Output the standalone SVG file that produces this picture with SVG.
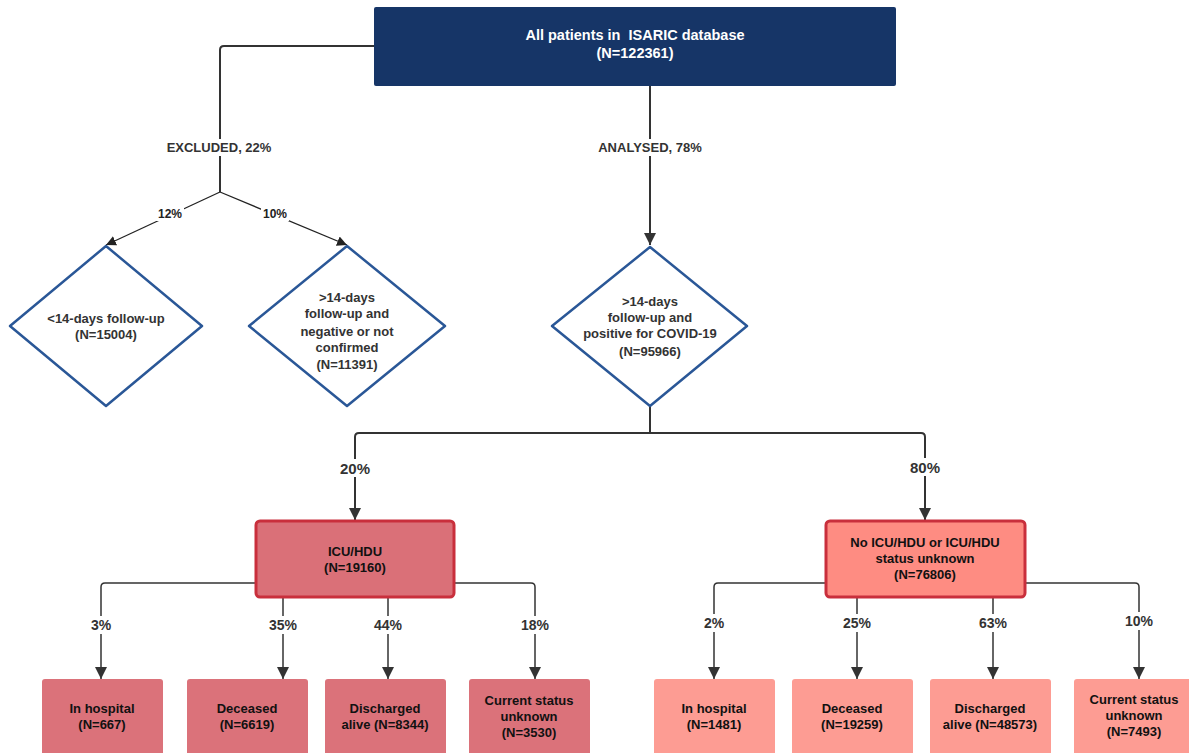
<svg xmlns="http://www.w3.org/2000/svg" width="1189" height="753" viewBox="0 0 1189 753">
<style>
text{font-family:"Liberation Sans",Arial,sans-serif;font-weight:bold;text-anchor:middle;dominant-baseline:central}
.ln{fill:none;stroke:#333;stroke-width:2}
.thin{fill:none;stroke:#222;stroke-width:1.3}
.sub{fill:none;stroke:#333;stroke-width:1.5}
.lbl{font-size:13px;fill:#333}
.pct{font-size:14px;fill:#333}
.dia{fill:#fff;stroke:#2a5797;stroke-width:2.5;stroke-linejoin:round}
.dt{font-size:13px;fill:#333}
.bt{font-size:13px;fill:#111}
.bg{fill:#fff}
</style>
<defs>
<marker id="ah" viewBox="0 0 10 10" refX="10" refY="5" markerWidth="10" markerHeight="10" markerUnits="userSpaceOnUse" orient="auto"><path d="M0,0L10,5L0,10z" fill="#222"/></marker>
<marker id="ah2" viewBox="0 0 10 10" refX="10" refY="5" markerWidth="14" markerHeight="12" markerUnits="userSpaceOnUse" orient="auto"><path d="M0,0L10,5L0,10z" fill="#333"/></marker>
</defs>
<g id="connectors">
<path class="ln" d="M374,46H224Q220,46 220,50V192"/>
<path class="thin" d="M220,192L106,245" marker-end="url(#ah)"/>
<path class="thin" d="M220,192L347,245" marker-end="url(#ah)"/>
<path class="ln" d="M650,86V245" marker-end="url(#ah2)"/>
<path class="ln" d="M650,406V433"/>
<path class="ln" d="M355,520V437Q355,433 359,433H921Q925,433 925,437V520" marker-end="url(#ah2)"/>
<path class="ln" d="M355,437V520" marker-end="url(#ah2)"/>
<path class="sub" d="M256,583H105Q101,583 101,587V679" marker-end="url(#ah2)"/>
<path class="sub" d="M283,597V679" marker-end="url(#ah2)"/>
<path class="sub" d="M388,597V679" marker-end="url(#ah2)"/>
<path class="sub" d="M454,583H531Q535,583 535,587V679" marker-end="url(#ah2)"/>
<path class="sub" d="M826,583H718Q714,583 714,587V679" marker-end="url(#ah2)"/>
<path class="sub" d="M857,597V679" marker-end="url(#ah2)"/>
<path class="sub" d="M993,597V679" marker-end="url(#ah2)"/>
<path class="sub" d="M1025,583H1135Q1139,583 1139,587V679" marker-end="url(#ah2)"/>
<rect class="bg" x="164" y="139" width="112" height="17"/>
<text class="lbl" x="219" y="147">EXCLUDED, 22%</text>
<rect class="bg" x="594" y="139" width="112" height="17"/>
<text class="lbl" x="650" y="147">ANALYSED, 78%</text>
<rect class="bg" x="156" y="207" width="28" height="14"/>
<text class="dt" x="170" y="214" style="font-size:12px;fill:#222">12%</text>
<rect class="bg" x="261" y="207" width="28" height="14"/>
<text class="dt" x="275" y="214" style="font-size:12px;fill:#222">10%</text>
<rect class="bg" x="337" y="459" width="36" height="18"/>
<text class="pct" x="355" y="468" style="font-size:15px">20%</text>
<rect class="bg" x="907" y="458" width="36" height="18"/>
<text class="pct" x="925" y="467" style="font-size:15px">80%</text>
<rect class="bg" x="88" y="616" width="26" height="18"/>
<text class="pct" x="101" y="625">3%</text>
<rect class="bg" x="268" y="616" width="30" height="18"/>
<text class="pct" x="283" y="625">35%</text>
<rect class="bg" x="373" y="616" width="30" height="18"/>
<text class="pct" x="388" y="625">44%</text>
<rect class="bg" x="520" y="616" width="30" height="18"/>
<text class="pct" x="535" y="625">18%</text>
<rect class="bg" x="701" y="614" width="26" height="18"/>
<text class="pct" x="714" y="623">2%</text>
<rect class="bg" x="842" y="614" width="30" height="18"/>
<text class="pct" x="857" y="623">25%</text>
<rect class="bg" x="978" y="614" width="30" height="18"/>
<text class="pct" x="993" y="623">63%</text>
<rect class="bg" x="1124" y="612" width="30" height="18"/>
<text class="pct" x="1139" y="621">10%</text>
</g>
<g id="top">
<rect x="374" y="7" width="522" height="79" rx="2" fill="#163567"/>
<text x="635" y="35" style="font-size:14.5px;fill:#fff">All patients in&#160; ISARIC database</text>
<text x="635" y="53" style="font-size:14.5px;fill:#fff">(N=122361)</text>
</g>
<g id="d1">
<path class="dia" d="M106,246L202,326L106,406L10,326z"/>
<text class="dt" x="106" y="318">&lt;14-days follow-up</text>
<text class="dt" x="106" y="334">(N=15004)</text>
</g>
<g id="d2">
<path class="dia" d="M347,246L445,326L347,406L249,326z"/>
<text class="dt" x="347" y="297">&gt;14-days</text>
<text class="dt" x="347" y="313">follow-up and</text>
<text class="dt" x="347" y="331">negative or not</text>
<text class="dt" x="347" y="347">confirmed</text>
<text class="dt" x="347" y="364">(N=11391)</text>
</g>
<g id="d3">
<path class="dia" d="M650,247L747,326L650,406L552,326z"/>
<text class="dt" x="650" y="301">&gt;14-days</text>
<text class="dt" x="650" y="317">follow-up and</text>
<text class="dt" x="650" y="333">positive for COVID-19</text>
<text class="dt" x="650" y="351">(N=95966)</text>
</g>
<g id="icu">
<rect x="256" y="521" width="198" height="76" rx="4" fill="#da7078" stroke="#c92f3c" stroke-width="3"/>
<text class="bt" x="355" y="551">ICU/HDU</text>
<text class="bt" x="355" y="567">(N=19160)</text>
</g>
<g id="noicu">
<rect x="826" y="521" width="199" height="76" rx="4" fill="#fe8c82" stroke="#c92f3c" stroke-width="3"/>
<text class="bt" x="925" y="542">No ICU/HDU or ICU/HDU</text>
<text class="bt" x="925" y="558">status unknown</text>
<text class="bt" x="925" y="574">(N=76806)</text>
</g>
<g id="l1"><rect x="42" y="679" width="121" height="80" rx="3" fill="#db727a"/><text class="bt" x="102" y="708">In hospital</text><text class="bt" x="102" y="724">(N=667)</text></g>
<g id="l2"><rect x="187" y="679" width="121" height="80" rx="3" fill="#db727a"/><text class="bt" x="247" y="708">Deceased</text><text class="bt" x="247" y="724">(N=6619)</text></g>
<g id="l3"><rect x="325" y="679" width="121" height="80" rx="3" fill="#db727a"/><text class="bt" x="385" y="708">Discharged</text><text class="bt" x="385" y="724">alive (N=8344)</text></g>
<g id="l4"><rect x="469" y="679" width="121" height="80" rx="3" fill="#db727a"/><text class="bt" x="529" y="700">Current status</text><text class="bt" x="529" y="716">unknown</text><text class="bt" x="529" y="732">(N=3530)</text></g>
<g id="r1"><rect x="654" y="679" width="121" height="80" rx="3" fill="#fd9c93"/><text class="bt" x="714" y="708">In hospital</text><text class="bt" x="714" y="724">(N=1481)</text></g>
<g id="r2"><rect x="792" y="679" width="121" height="80" rx="3" fill="#fd9c93"/><text class="bt" x="852" y="708">Deceased</text><text class="bt" x="852" y="724">(N=19259)</text></g>
<g id="r3"><rect x="930" y="679" width="121" height="80" rx="3" fill="#fd9c93"/><text class="bt" x="990" y="708">Discharged</text><text class="bt" x="990" y="724">alive (N=48573)</text></g>
<g id="r4"><rect x="1074" y="679" width="125" height="80" rx="3" fill="#fd9c93"/><text class="bt" x="1134" y="699">Current status</text><text class="bt" x="1134" y="715">unknown</text><text class="bt" x="1134" y="731">(N=7493)</text></g>
</svg>
